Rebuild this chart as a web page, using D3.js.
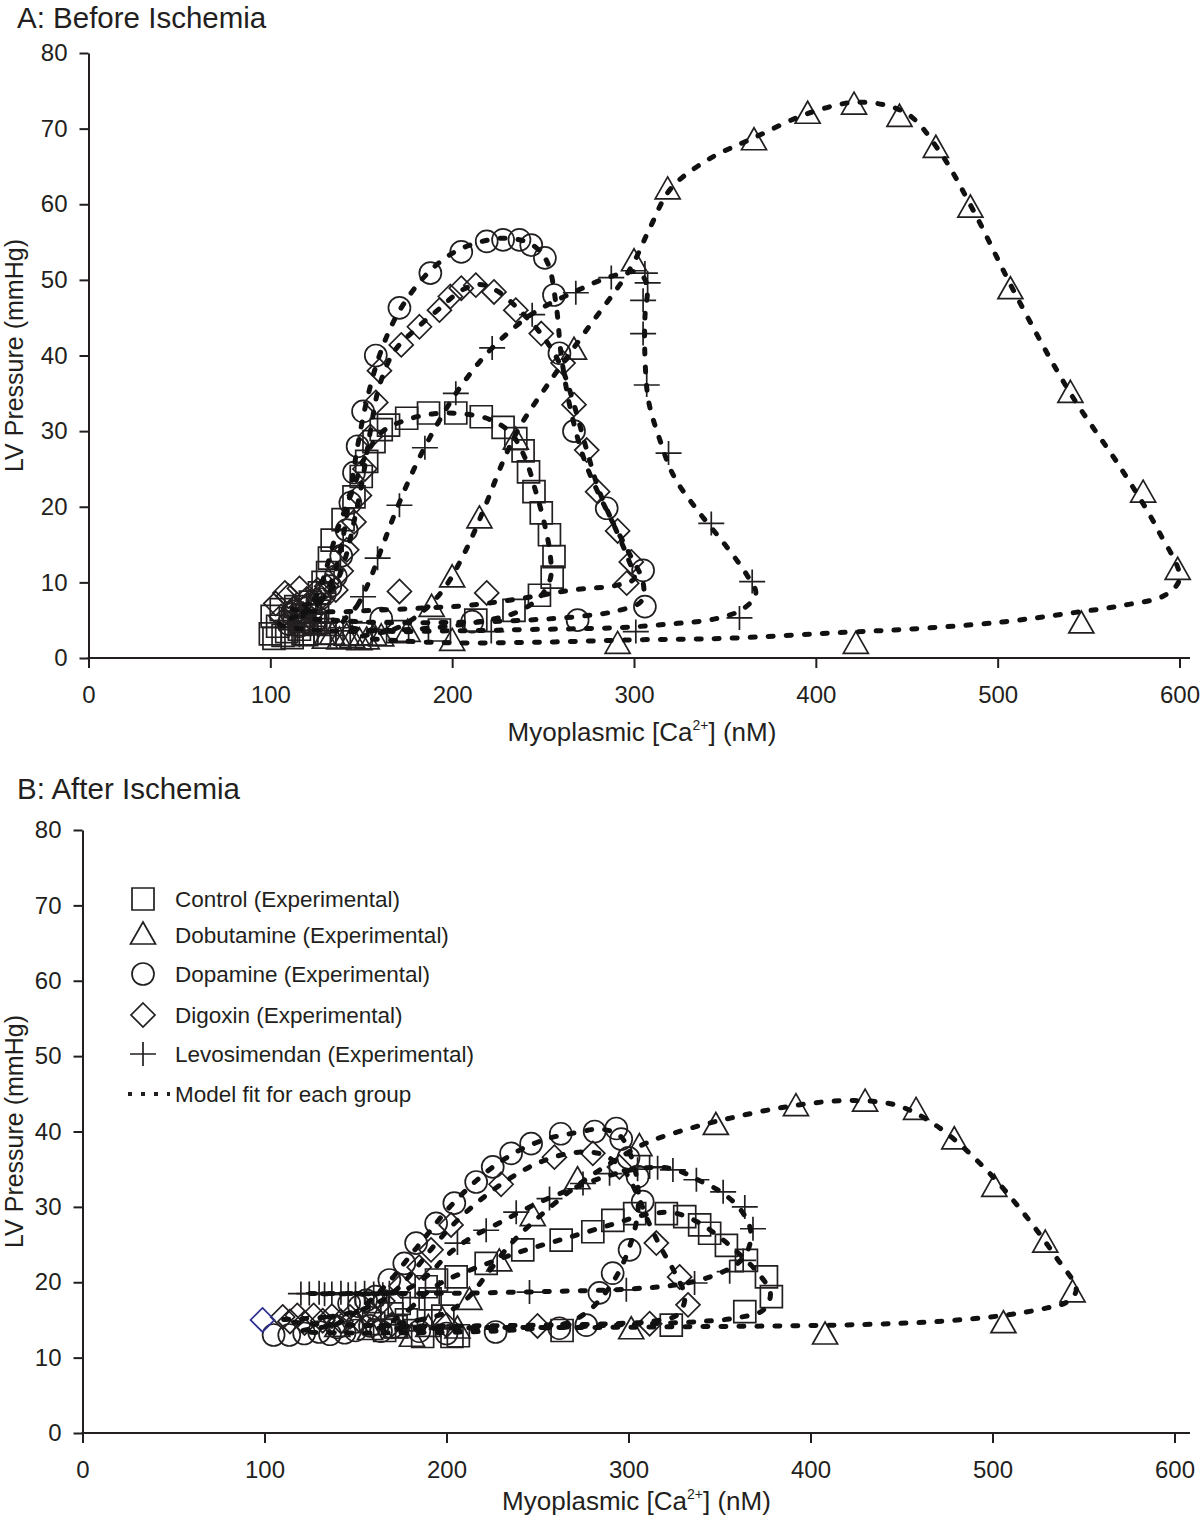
<!DOCTYPE html>
<html><head><meta charset="utf-8">
<script src="https://cdn.jsdelivr.net/npm/d3@7"></script>
<style>
body{margin:0;background:#fff}
text{font-family:"Liberation Sans",Arial,Helvetica,sans-serif;fill:#231f20}
</style>
</head><body>
<svg id="chart" width="1200" height="1518"></svg>
<script>
// ---------- tick labels ----------
const xTicks = [0,100,200,300,400,500,600];
const yTicks = [0,10,20,30,40,50,60,70,80];
const legendLabels = ["Control (Experimental)","Dobutamine (Experimental)","Dopamine (Experimental)","Digoxin (Experimental)","Levosimendan (Experimental)","Model fit for each group"];

// ---------- Panel A: experimental points [Ca nM, LV mmHg] ----------
const controlA = [[100,3.2],[101,5.5],[102,2.6],[104,4.2],[106,6.4],[107,3],[109,3.5],[111,5.2],[112,2.7],[114,6.8],[116,3.8],[117,4.8],[119,5.6],[120,3.1],[122,7.4],[125,4.5],[126,6.2],[127,8.6],[129,10],[131.5,11.3],[132.5,13.2],[134,15.6],[140,18.3],[146,21.3],[150,24],[153,26],[157,28.6],[161,30.2],[165,30.8],[175,31.7],[187,32.4],[202,32.4],[216,31.9],[228,30.5],[235,29],[239,27.4],[242,24.6],[245,22],[249,19.2],[253.5,16.3],[256,13.4],[255,10.7],[248,8.3],[234,6.3],[213,5],[193,3.7],[170,3.5],[150,3.2],[130,3.3],[118,3.2]];
const dobutamineA = [[130,2.5],[134,3],[138,2.4],[142,2.9],[145,2.6],[149,2.3],[153,2.4],[157,2.9],[161,2.8],[175.5,3.4],[188.7,6.7],[200,10.6],[215,18.4],[235,28.8],[267,40.7],[300,52.4],[318.5,61.9],[366,68.4],[395.5,71.9],[421,73.1],[446,71.5],[466,67.4],[485,59.5],[507,48.7],[540,35],[580,21.8],[599,11.6],[546,4.5],[422,1.8],[291,1.8],[200,2.2]];
const dopamineA = [[110,4.5],[112,5.8],[114,6.2],[116,4.2],[118,5],[120,6.6],[122,7],[125,5],[127,7.8],[130,8.5],[133,9.5],[136,10.8],[139,13.5],[142,16.9],[144,20.5],[146,24.5],[148,28],[151,32.6],[158,40],[171,46.3],[188,50.9],[205,53.7],[219,55.1],[228,55.3],[237,55.3],[243.5,54.6],[251,52.9],[256,48],[259,40.3],[267,30],[285,19.8],[305,11.6],[306,6.8],[269,5],[211,4.8],[161,5.2]];
const digoxinA = [[103,7.2],[106,5.5],[108,8.6],[110,8.2],[113,6.5],[116,9.2],[118,5.8],[120,7.8],[124,6.2],[126,9],[128,8],[131,9.5],[136,9],[139,11.5],[142,14.3],[146,18],[149,21.5],[152,25],[155,29.3],[158,33.8],[160,38],[172,41.4],[182,43.8],[193,46],[199,47.8],[205,48.9],[213,49.3],[223,48.4],[235,46],[249,42.9],[261,39],[267,33.5],[274,27.5],[280,22],[291,16.8],[298.5,12.7],[296,9.9],[219,8.6],[171,8.8]];
const levoA = [[110,4],[112,6.2],[114,5.4],[116,3],[118,3.6],[120,6.4],[122,5.8],[124,4.2],[126,3.3],[128,5.2],[130,4.6],[133,3],[136,3.6],[140,4],[143.6,4.8],[151,8.1],[159,13.2],[171,20.2],[185,27.8],[202,35],[222,41],[244,45.4],[268,48.3],[287.5,50.3],[306,50.9],[307.5,49.6],[305,47.3],[305,42.9],[307,36.1],[319,27.1],[342.5,17.8],[365,10.1],[358,5.3],[301,3.5],[221.5,3.5]];

// ---------- Panel A: model fits (closed loops) ----------
const controlFitA = [[105,4.5],[118,6],[126,8.5],[131,12],[137,17],[145,22],[153,27],[162,30],[175,31.5],[190,32.3],[205,32.3],[220,31.6],[232,29.8],[240,26.5],[246,22],[251,17.5],[254,13.5],[254,10.5],[248,8],[235,6],[215,4.8],[190,4],[160,3.6],[130,3.6]];
const dobutamineFitA = [[150,2.8],[168,3.8],[182,5.8],[195,9],[207,14],[218,20],[228,26],[237,30.5],[255,37],[274,43.4],[298,51.5],[309,57],[320,62],[340,65.8],[366,68.8],[398,72.2],[425,73.5],[450,72],[468,67],[487,59],[510,48],[540,35],[568,25],[588,17],[600,10.5],[592,8.3],[570,7],[542,6],[500,4.7],[450,3.8],[416,3.4],[350,2.6],[300,2.4],[250,2.1],[200,2],[170,2.3]];
const dopamineFitA = [[118,5.5],[128,7.5],[135,11],[140,16],[144,22],[148,28],[153,34],[160,40],[170,45.5],[185,50.5],[200,53.5],[215,55],[230,55.5],[243,54.8],[252,52.5],[257,47],[260,40],[265,33],[273,26],[285,19.5],[297,14],[305,10],[304,7.5],[290,6.2],[270,5.5],[240,5],[200,4.7],[160,4.7],[135,5]];
const digoxinFitA = [[112,6.5],[125,7.5],[135,9.5],[141,13],[146,18],[151,24],[155,30],[160,36],[168,40.5],[180,43.5],[193,46.2],[205,48.6],[215,49.4],[225,48.5],[237,46],[250,42.5],[260,38.5],[267,33.5],[274,27.5],[281,22],[290,17],[297,13],[300,10.5],[290,9.6],[266,9],[244,8.1],[211,7],[184,6.6],[156,6.3],[135,6.1]];
const levoFitA = [[140,4.5],[148,7],[155,10.5],[162,15],[170,20],[180,25.5],[192,31],[205,36],[222,41],[244,45.5],[268,48.5],[288,50.5],[302,51],[307,49.5],[306,45],[306,40],[308,34],[314,29],[322,24],[335,19.5],[350,15],[362,11],[367,8.5],[360,6.5],[345,5.2],[320,4.5],[290,4],[250,3.8],[200,3.6],[160,3.6]];

// ---------- Panel B: experimental points ----------
const controlB = [[160,14.5],[166,13.6],[170,15.8],[172.3,14.1],[174,17.2],[178,15],[182,16.5],[186.9,12.8],[188.8,19.4],[191,17.8],[194.5,20.3],[198,15.5],[203,12.8],[205.3,20.7],[221.8,22.5],[241.9,24.3],[263,25.6],[280.4,26.7],[291.4,28.2],[303.4,29.1],[320.8,29.1],[330.9,28.7],[339.1,27.6],[344.6,26.5],[353.8,24.9],[364.8,22.9],[375.8,20.7],[378.5,18.1],[363.9,16.1],[323.5,14.3],[263.5,13.6],[206.5,12.9]];
const dobutamineB = [[140,14],[150,14.5],[158,13.6],[165.8,16.3],[172,13.8],[181,12.7],[190,14],[197.7,15],[206,13.8],[212.6,17.6],[229,22.7],[247.4,28.7],[272,33.6],[306,38],[348,40.8],[392,43.3],[430,43.9],[458,42.8],[479,38.9],[501,32.6],[529,25.2],[544,18.6],[506,14.5],[408,13],[301.5,13.7]];
const dopamineB = [[105,13],[113.6,13],[121.8,13.2],[130,13.4],[136,13.1],[140,14],[144,13.3],[146.5,17.2],[150,13.6],[152,16.8],[155.8,17.6],[158,14.2],[161,18.1],[164,13.5],[168.6,20.3],[170,14],[176.8,22.5],[183.3,25.2],[194.3,27.8],[204.3,30.5],[216.3,33.3],[225.4,35.3],[235.5,37.1],[246.5,38.4],[262.8,39.7],[281.4,40],[293.3,40.4],[296,39],[300,36.5],[305,34],[307.8,30.7],[300.6,24.3],[291.3,21.2],[284,18.6],[276.8,14.3],[262,13.9],[227,13.4],[200,13.2],[185,13.5]];
const digoxinB = [[110,15.4],[114,14.8],[118,15.6],[122,14.6],[127,15.6],[132,14.9],[137,15.5],[142,14.8],[147,15.4],[152,15],[158,15.8],[165,17.5],[175,19.5],[185,22],[191.5,24.3],[202.5,27.6],[230,33],[259.3,36.6],[280.4,37.1],[295,35.3],[315.3,25.2],[328.1,20.7],[332.7,17],[311.6,14.5],[250,14.2],[200,14.3],[170,14.4]];
const digoxinOutlierB = [[98.9,15]];
const levoB = [[120,18.5],[124.6,18.5],[130,18.6],[133,18.4],[137,18.5],[142,18.6],[146,18.4],[150,18.5],[155,18.6],[160,18.5],[165,18.4],[168.6,18.6],[196,18.7],[206,25.2],[221.8,26.9],[238.3,29.3],[256.6,31.1],[275,33.1],[289.6,34.4],[305,35],[311.6,35.3],[316,35.2],[324.4,34.9],[337.3,33.6],[352,32],[363.9,30],[368.4,27.1],[363,22.9],[355.6,21.4],[336.3,19.9],[298.8,19],[245.6,18.7]];

// ---------- Panel B: model fits ----------
const controlFitB = [[170,14.5],[180,16.5],[190,18.8],[200,20.3],[215,21.8],[240,24],[265,25.8],[290,27.6],[310,29],[325,29.2],[338,28],[350,26],[362,23.5],[372,21],[378,18.5],[374,16.3],[360,15.3],[340,14.8],[300,14.4],[260,14],[220,13.8],[190,13.8]];
const dobutamineFitB = [[160,14],[185,15],[200,16],[212,18],[222,21],[235,25],[250,28.5],[270,32.5],[290,35.8],[310,38.5],[335,40.5],[360,42],[390,43.4],[420,44.1],[447,43.5],[469,40.8],[493,35.8],[515,29.8],[535,23.3],[546,19],[541,17.4],[530,16.6],[506,15.6],[470,14.8],[430,14.4],[380,14.2],[330,14.1],[280,14],[230,14],[190,13.9]];
const dopamineFitB = [[120,13.5],[140,14.5],[150,16],[160,18],[170,20.5],[180,23.5],[190,26.5],[200,29.5],[212,32.5],[225,35.2],[240,37.5],[255,39],[270,39.8],[285,40.3],[295,39.5],[301,37],[305,33],[305,29],[301,25],[295,21.5],[287,18.5],[277,16],[265,14.5],[245,13.8],[210,13.4],[170,13.3],[140,13.3]];
const digoxinFitB = [[110,15],[135,15.4],[155,16.5],[170,18.5],[182,21.5],[192,24.5],[203,27.5],[218,30.8],[235,33.8],[252,36],[270,37.2],[285,37],[297,35],[305,31.5],[311,28],[318,24.5],[326,21],[331,18],[327,15.7],[312,14.8],[290,14.5],[250,14.3],[200,14.2],[150,14.3],[120,14.6]];
const levoFitB = [[125,18.5],[150,18.5],[175,18.8],[190,21],[200,23.5],[212,25.7],[230,28],[250,30.5],[270,32.5],[290,34.2],[310,35.2],[325,35],[338,33.6],[352,31.8],[362,29.5],[367,27],[366,24.5],[360,22.5],[348,21],[330,19.8],[300,19.1],[260,18.8],[220,18.6],[180,18.5]];

// ---------- drawing ----------
const INK = "#231f20";
const svg = d3.select("#chart");

const symbolPath = {
  square: "M-11,-11H11V11H-11Z",
  triangle: "M0,-13L12.5,9L-12.5,9Z",
  circle: "M11,0A11,11 0 1,1 -11,0A11,11 0 1,1 11,0Z",
  diamond: "M0,-12L12,0L0,12L-12,0Z",
  plus: "M-13,0H13M0,-12V12"
};

function panel(cfg) {
  const x = d3.scaleLinear().domain([0,600]).range([cfg.x0, cfg.x600]);
  const y = d3.scaleLinear().domain([0,80]).range([cfg.yBase, cfg.yTop]);
  const g = svg.append("g");

  // title
  g.append("text").attr("x",17).attr("y",cfg.titleY).attr("font-size",29.5).text(cfg.title);

  // y axis
  const gy = g.append("g").attr("transform",`translate(${cfg.x0},0)`)
    .call(d3.axisLeft(y).tickValues(yTicks).tickSize(9).tickPadding(12).tickSizeOuter(0));
  gy.attr("font-size",24).attr("font-family","Liberation Sans, Arial, sans-serif").attr("color",INK);
  gy.selectAll("line").attr("stroke-width",2);
  gy.select(".domain").attr("stroke-width",2);

  // x axis
  const gx = g.append("g").attr("transform",`translate(0,${cfg.yBase})`)
    .call(d3.axisBottom(x).tickValues(xTicks).tickSize(10).tickPadding(18).tickSizeOuter(0));
  gx.attr("font-size",24).attr("font-family","Liberation Sans, Arial, sans-serif").attr("color",INK);
  gx.selectAll("line").attr("stroke-width",2);
  gx.select(".domain").remove();
  g.append("line").attr("x1",cfg.x0-1).attr("x2",1190).attr("y1",cfg.yBase).attr("y2",cfg.yBase)
    .attr("stroke",INK).attr("stroke-width",2.2);

  // axis titles
  const xl = g.append("text").attr("x",(cfg.x0+cfg.x600)/2+8).attr("y",cfg.yBase+cfg.xLabelDy)
    .attr("text-anchor","middle").attr("font-size",26);
  xl.append("tspan").text("Myoplasmic [Ca");
  xl.append("tspan").attr("font-size",14).attr("dy",-11).text("2+");
  xl.append("tspan").attr("dy",11).text("] (nM)");
  g.append("text").attr("transform",`translate(23,${(cfg.yBase+cfg.yTop)/2}) rotate(-90)`)
    .attr("text-anchor","middle").attr("font-size",25).text("LV Pressure (mmHg)");

  // markers
  cfg.groups.forEach(gr => {
    g.append("g").selectAll("path").data(gr.pts).join("path")
      .attr("transform", d => `translate(${x(d[0])},${y(d[1])})`)
      .attr("d", symbolPath[gr.sym])
      .attr("fill","none").attr("stroke", gr.color || INK).attr("stroke-width",1.7);
  });
  // model fits
  const line = d3.line().x(d => x(d[0])).y(d => y(d[1])).curve(d3.curveCatmullRomClosed.alpha(0.5));
  cfg.groups.filter(gr => gr.fit).forEach(gr => {
    g.append("path").attr("d", line(gr.fit)).attr("fill","none")
      .attr("stroke", "#111").attr("stroke-width",5)
      .attr("stroke-linecap","round").attr("stroke-dasharray","5,13");
  });
  return {x,y,g};
}

panel({
  title:"A: Before Ischemia", titleY:28, xLabelDy:83,
  x0:88.5, x600:1179.5, yBase:658, yTop:53,
  groups:[
    {pts:controlA, fit:controlFitA, sym:"square"},
    {pts:dobutamineA, fit:dobutamineFitA, sym:"triangle"},
    {pts:dopamineA, fit:dopamineFitA, sym:"circle"},
    {pts:digoxinA, fit:digoxinFitA, sym:"diamond"},
    {pts:levoA, fit:levoFitA, sym:"plus"}
  ]
});

panel({
  title:"B: After Ischemia", titleY:799, xLabelDy:77,
  x0:82.5, x600:1174.5, yBase:1433, yTop:830,
  groups:[
    {pts:controlB, fit:controlFitB, sym:"square"},
    {pts:dobutamineB, fit:dobutamineFitB, sym:"triangle"},
    {pts:dopamineB, fit:dopamineFitB, sym:"circle"},
    {pts:digoxinB, fit:digoxinFitB, sym:"diamond"},
    {pts:digoxinOutlierB, sym:"diamond", color:"#2e3192"},
    {pts:levoB, fit:levoFitB, sym:"plus"}
  ]
});

// legend (panel B)
const legendSyms = ["square","triangle","circle","diamond","plus"];
const legendY = [899,935,974,1015,1054,1094];
const lg = svg.append("g");
legendSyms.forEach((s,i) => {
  lg.append("path").attr("transform",`translate(143,${legendY[i]})`).attr("d",symbolPath[s])
    .attr("fill","none").attr("stroke",INK).attr("stroke-width",1.7);
});
lg.append("line").attr("x1",128).attr("x2",170).attr("y1",legendY[5]).attr("y2",legendY[5])
  .attr("stroke",INK).attr("stroke-width",4).attr("stroke-dasharray","4,9");
legendLabels.forEach((t,i) => {
  lg.append("text").attr("x",175).attr("y",legendY[i]+8).attr("font-size",22.5).text(t);
});
</script>
</body></html>
